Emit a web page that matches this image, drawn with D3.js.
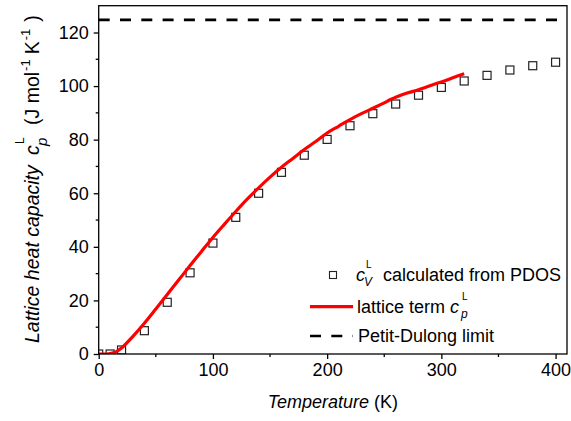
<!DOCTYPE html>
<html>
<head>
<meta charset="utf-8">
<script src="https://cdn.jsdelivr.net/npm/d3@7"></script>
<style>
body { margin: 0; background: #fff; }
text { font-family: "Liberation Sans", Arial, sans-serif; fill: #000; }
</style>
</head>
<body>
<div id="chart"></div>
<script>
//PDOS points (cV)
var pdosT = [0, 10, 20, 40, 60, 80, 100, 120, 140, 160, 180, 200, 220, 240, 260, 280, 300, 320, 340, 360, 380, 400];
var pdosCv = [0, 0, 1.5, 8.7, 19.3, 30.3, 41.4, 51, 60, 67.8, 74.2, 80.1, 85.2, 89.7, 93.3, 96.6, 99.5, 101.9, 104, 106, 107.6, 108.9];

//lattice term cp (red line)
var latticeT = [0, 5, 10, 15, 20, 25, 30, 40, 50, 60, 70, 80, 90, 100, 110, 120, 130, 140, 150, 160, 170, 180, 190, 200, 210, 220, 230, 240, 250, 255, 260, 270, 280, 290, 295, 300, 310, 320];
var latticeCp = [0, 0, 0.2, 0.8, 2.2, 4.3, 6.6, 11.5, 16.8, 22.2, 27.6, 33, 38.3, 43.5, 48.4, 53.2, 57.8, 62, 66, 69.7, 73, 76.3, 79.3, 82.5, 85, 87.5, 89.7, 91.7, 93.7, 94.9, 95.8, 97.4, 98.6, 100.1, 100.9, 101.5, 103.1, 104.6];

//Petit-Dulong limit
var dulongLimit = 124.7;

//tick labels
var xTicks = [0, 100, 200, 300, 400];
var xMinor = [50, 150, 250, 350];
var yTicks = [0, 20, 40, 60, 80, 100, 120];
var yMinor = [10, 30, 50, 70, 90, 110];

var width = 571;
var height = 421;

//plot area edges
var pLeft = 98.7, pRight = 567, pTop = 5.7, pBottom = 354;

var svg = d3.select('#chart')
    .append('svg')
    .attr('width', width)
    .attr('height', height);

var xScale = d3.scaleLinear().domain([0, 410]).range([pLeft, pRight]);
var yScale = d3.scaleLinear().domain([0, 130]).range([pBottom, pTop]);

//clip for the plot area
svg.append('clipPath')
    .attr('id', 'plotClip')
    .append('rect')
    .attr('x', pLeft)
    .attr('y', pTop)
    .attr('width', pRight - pLeft)
    .attr('height', pBottom - pTop);

var plot = svg.append('g').attr('clip-path', 'url(#plotClip)');

//dashed limit
plot.append('line')
    .attr('x1', pLeft)
    .attr('x2', pRight)
    .attr('y1', yScale(dulongLimit))
    .attr('y2', yScale(dulongLimit))
    .attr('stroke', '#000')
    .attr('stroke-width', 2.7)
    .attr('stroke-dasharray', '11,10.3');

//squares
var sq = 8;
plot.selectAll('rect.pdos')
    .data(pdosT)
    .enter()
    .append('rect')
    .attr('class', 'pdos')
    .attr('x', function(d) { return xScale(d) - sq / 2; })
    .attr('y', function(d, i) { return yScale(pdosCv[i]) - sq / 2; })
    .attr('width', sq)
    .attr('height', sq)
    .attr('fill', 'none')
    .attr('stroke', '#222')
    .attr('stroke-width', 1.2);

//red line
var line = d3.line()
    .x(function(d) { return xScale(d); })
    .y(function(d, i) { return yScale(latticeCp[i]); })
    .curve(d3.curveMonotoneX);

plot.append('path')
    .attr('d', line(latticeT))
    .attr('fill', 'none')
    .attr('stroke', '#ff0000')
    .attr('stroke-width', 3.2)
    .attr('stroke-linejoin', 'round');

//frame
svg.append('rect')
    .attr('x', pLeft)
    .attr('y', pTop)
    .attr('width', pRight - pLeft)
    .attr('height', pBottom - pTop)
    .attr('fill', 'none')
    .attr('stroke', '#000')
    .attr('stroke-width', 1.3);

//axes
var xAxis = d3.axisBottom(xScale).tickValues(xTicks).tickSize(5).tickPadding(4);
var yAxis = d3.axisLeft(yScale).tickValues(yTicks).tickSize(5).tickPadding(5);

var gx = svg.append('g')
    .attr('transform', 'translate(0,' + pBottom + ')')
    .call(xAxis);
var gy = svg.append('g')
    .attr('transform', 'translate(' + pLeft + ',0)')
    .call(yAxis);

[gx, gy].forEach(function(g) {
    g.select('.domain').remove();
    g.selectAll('line').attr('stroke', '#000').attr('stroke-width', 1.3);
    g.selectAll('text')
        .attr('font-size', 18)
        .style('font-family', '"Liberation Sans", Arial, sans-serif')
        .attr('fill', '#000');
});

//minor ticks
svg.selectAll('line.xminor')
    .data(xMinor)
    .enter()
    .append('line')
    .attr('x1', function(d) { return xScale(d); })
    .attr('x2', function(d) { return xScale(d); })
    .attr('y1', pBottom)
    .attr('y2', pBottom + 3)
    .attr('stroke', '#000')
    .attr('stroke-width', 1.3);

svg.selectAll('line.yminor')
    .data(yMinor)
    .enter()
    .append('line')
    .attr('x1', pLeft - 3)
    .attr('x2', pLeft)
    .attr('y1', function(d) { return yScale(d); })
    .attr('y2', function(d) { return yScale(d); })
    .attr('stroke', '#000')
    .attr('stroke-width', 1.3);

//x title
var xTitle = svg.append('text')
    .attr('x', (pLeft + pRight) / 2)
    .attr('y', 408)
    .attr('text-anchor', 'middle')
    .attr('font-size', 18);
xTitle.append('tspan').attr('font-style', 'italic').text('Temperature');
xTitle.append('tspan').text(' (K)');

//y title, written from the bottom up
var yTitle = svg.append('text')
    .attr('transform', 'translate(38.5,343) rotate(-90)')
    .attr('text-anchor', 'start')
    .attr('font-size', 19.5);
yTitle.append('tspan').attr('x', 0).attr('y', 0).attr('font-style', 'italic').text('Lattice heat capacity');
yTitle.append('tspan').attr('x', 188).attr('y', 0).attr('font-style', 'italic').text('c');
yTitle.append('tspan').attr('x', 197).attr('y', 8).attr('font-size', 15).attr('font-style', 'italic').text('p');
yTitle.append('tspan').attr('x', 199).attr('y', -15).attr('font-size', 12).text('L');
yTitle.append('tspan').attr('x', 218).attr('y', 0).text('(J mol');
yTitle.append('tspan').attr('dx', 1).attr('y', -9).attr('font-size', 13).text('-1');
yTitle.append('tspan').attr('dx', 5).attr('y', 0).text('K');
yTitle.append('tspan').attr('dx', 1).attr('y', -9).attr('font-size', 13).text('-1');
yTitle.append('tspan').attr('dx', 7).attr('y', 0).text(')');

//legend
var legend = svg.append('g');

legend.append('rect')
    .attr('x', 333 - 3.5)
    .attr('y', 275 - 3.5)
    .attr('width', 7)
    .attr('height', 7)
    .attr('fill', 'none')
    .attr('stroke', '#222')
    .attr('stroke-width', 1.1);

var l1 = legend.append('text').attr('font-size', 18);
l1.append('tspan').attr('x', 356).attr('y', 281).attr('font-style', 'italic').text('c');
l1.append('tspan').attr('x', 364).attr('y', 286).attr('font-style', 'italic').attr('font-size', 12).text('V');
l1.append('tspan').attr('x', 366).attr('y', 268).attr('font-size', 10).text('L');
l1.append('tspan').attr('x', 383).attr('y', 281).text('calculated from PDOS');

legend.append('line')
    .attr('x1', 310).attr('x2', 353)
    .attr('y1', 306.7).attr('y2', 306.7)
    .attr('stroke', '#ff0000')
    .attr('stroke-width', 3.2);

var l2 = legend.append('text').attr('font-size', 18);
l2.append('tspan').attr('x', 357).attr('y', 313).text('lattice term ');
l2.append('tspan').attr('font-style', 'italic').text('c');
l2.append('tspan').attr('x', 461).attr('y', 318).attr('font-style', 'italic').attr('font-size', 12).text('p');
l2.append('tspan').attr('x', 462).attr('y', 300).attr('font-size', 10).text('L');

legend.append('line')
    .attr('x1', 310).attr('x2', 353)
    .attr('y1', 336).attr('y2', 336)
    .attr('stroke', '#000')
    .attr('stroke-width', 2.7)
    .attr('stroke-dasharray', '11,10.3');

legend.append('text')
    .attr('x', 358)
    .attr('y', 342)
    .attr('font-size', 18)
    .text('Petit-Dulong limit');
</script>
</body>
</html>
